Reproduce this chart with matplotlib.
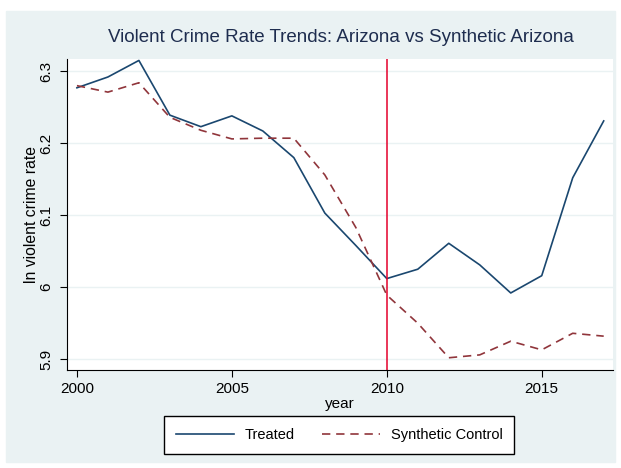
import matplotlib.pyplot as plt
from matplotlib.patches import Rectangle

plt.rcParams['font.family'] = ['Liberation Sans', 'DejaVu Sans']

years = list(range(2000, 2018))
treated = [6.277, 6.292, 6.315, 6.239, 6.223, 6.238, 6.217, 6.180, 6.103,
           6.058, 6.012, 6.025, 6.061, 6.031, 5.992, 6.016, 6.152, 6.231]
synthetic = [6.280, 6.271, 6.284, 6.236, 6.218, 6.206, 6.207, 6.207, 6.156,
             6.083, 5.989, 5.950, 5.902, 5.906, 5.925, 5.913, 5.936, 5.932]
xticks = [2000, 2005, 2010, 2015]
yticks = [5.9, 6.0, 6.1, 6.2, 6.3]
ytick_labels = ['5.9', '6', '6.1', '6.2', '6.3']

bg = '#eaf2f3'
fig = plt.figure(figsize=(6.21, 4.68), dpi=100, facecolor='white')
# stata-like graph region, kept behind the axes
fig.patches.append(Rectangle((6 / 621, 1 - 462 / 468), 609 / 621, 451 / 468,
                             transform=fig.transFigure, color=bg, zorder=-5))

ax = fig.add_axes([67 / 621, 1 - 370 / 468, 546 / 621, 311 / 468])
ax.set_facecolor('white')

ax.plot(years, treated, color='#1a476f', lw=1.2, label='Treated')
ax.plot(years, synthetic, color='#90353b', lw=1.2, ls=(0, (5, 3.5)),
        label='Synthetic Control')
ax.axvline(2010, color='#e4002b', lw=1.1)

ax.set_xlim(1999.68, 2017.3)
ax.set_ylim(5.885, 6.317)
ax.set_xticks(xticks)
ax.set_yticks(yticks)
ax.set_yticklabels(ytick_labels, rotation=90, va='center')
ax.grid(axis='y', color=bg, lw=1)
ax.set_axisbelow(True)
for s in ['top', 'right']:
    ax.spines[s].set_visible(False)
ax.tick_params(labelsize=11, length=5, direction='out')
ax.tick_params(axis='y', pad=5)

ax.set_xlabel('year', fontsize=11, labelpad=1)
ax.set_ylabel('ln violent crime rate', fontsize=11.3, labelpad=0)
fig.text(341 / 621, 1 - 38 / 468,
         'Violent Crime Rate Trends: Arizona vs Synthetic Arizona',
         ha='center', va='center', fontsize=13.5, color='#1e2d4f')

leg = fig.legend(loc='center', bbox_to_anchor=(339 / 621, 1 - 435 / 468),
                 ncol=2, fontsize=10.5, frameon=True, fancybox=False,
                 edgecolor='black', facecolor='white', framealpha=1,
                 handlelength=4, handletextpad=0.7, columnspacing=1.9,
                 borderpad=0.8, borderaxespad=0)
leg.get_frame().set_linewidth(1)

fig.savefig('out.png', dpi=100, facecolor=fig.get_facecolor())
